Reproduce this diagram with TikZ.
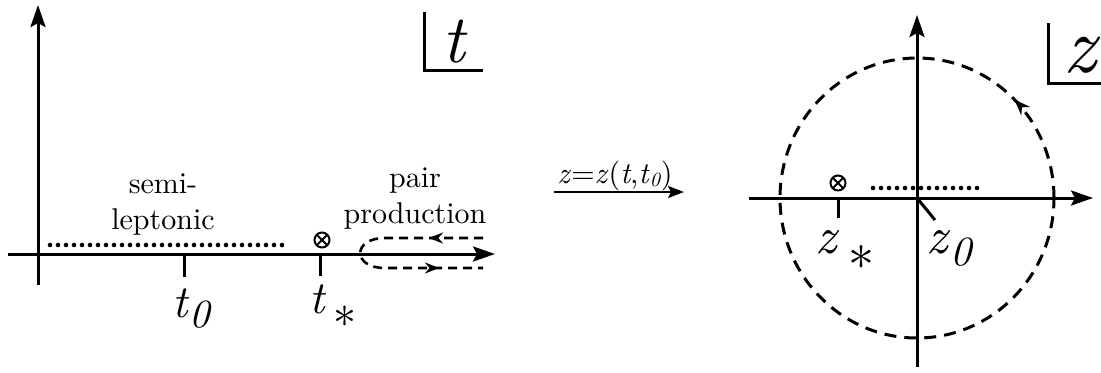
\documentclass[tikz,border=0pt]{standalone}
\usepackage{graphicx}
\usetikzlibrary{arrows.meta,decorations.markings}

\begin{document}
\begin{tikzpicture}[
  x=0.5pt, y=0.5pt,
  axis/.style={line width=1.5pt, -{Stealth[length=11pt,width=7.5pt,inset=2pt]}},
  tick/.style={line width=1.5pt},
  corner/.style={line width=1.5pt},
  cut/.style={line width=2.3pt, line cap=round, dash pattern=on 0pt off 4pt},
  contour/.style={line width=1.3pt, dash pattern=on 4.5pt off 3pt},
  circ/.style={line width=1.5pt, dash pattern=on 6pt off 4pt},
  pole/.style={circle, draw, line width=1pt, minimum size=7.5pt, inner sep=0pt,
    path picture={\draw[line width=1pt] (path picture bounding box.north west) -- (path picture bounding box.south east)
      (path picture bounding box.north east) -- (path picture bounding box.south west);}},
  lbl/.style={inner sep=0pt, anchor=base},
  txt/.style={inner sep=0pt}
]
  \useasboundingbox (0,0) rectangle (1101,372);

  % t plane
  \coordinate (tO) at (38,118);
  \coordinate (tDown) at (38,87);
  \coordinate (tUp) at (38,367);
  \coordinate (tLeft) at (8,118);
  \coordinate (tRight) at (495,118);
  \draw[line width=1.5pt] (tDown) -- (tO);
  \draw[axis] (tO) -- (tUp);
  \draw[axis] (tLeft) -- (tRight);
  \coordinate (cutA) at (50,127);
  \coordinate (cutB) at (287,127);
  \draw[cut] (cutA) -- (cutB);
  \coordinate (tz) at (184,118);
  \coordinate (tzTick) at (184,95);
  \draw[tick] (tz) -- (tzTick);
  \coordinate (ts) at (320,118);
  \coordinate (tsTick) at (320,96);
  \draw[tick] (ts) -- (tsTick);
  \node[pole] (tpole) at (322,132) {};
  \node[lbl] (tzlbl) at (192,55)
    {\scalebox{2.3}{\textit{t}\raisebox{-2.2pt}{\scalebox{0.87}{\textit{0}}}}};
  \node[lbl] (tslbl) at (333,59)
    {\scalebox{2.3}{\textit{t}\,\raisebox{-6pt}{*}}};
  \node[txt] (semi) at (163,168)
    {\scalebox{1.5}{\begin{tabular}{@{}c@{}}semi-\\leptonic\end{tabular}}};
  \node[txt] (pair) at (415,174)
    {\scalebox{1.5}{\begin{tabular}{@{}c@{}}pair\\production\end{tabular}}};
  \coordinate (upR) at (483,134);
  \coordinate (upL) at (385,134);
  \coordinate (loL) at (385,104);
  \coordinate (loR) at (483,104);
  \draw[contour, postaction={decorate}, decoration={markings,
      mark=at position 27pt with {\arrow{Stealth[length=7pt,width=5.5pt]}},
      mark=at position -22pt with {\arrow{Stealth[length=7pt,width=5.5pt]}}}]
    (upR) -- (upL) .. controls (352,134) and (352,104) .. (loL) -- (loR);
  \draw[corner] (424,360) |- (483,302);
  \node[lbl] (tname) at (455,310) {\scalebox{3.4}{\textit{t}}};

  % map
  \node[lbl] (map) at (615,189)
    {\scalebox{1.5}{\textit{z}=\textit{z}(\textit{t},\textit{t}\raisebox{-1.3pt}{\scalebox{0.67}{\textit{0}}})}};
  \coordinate (mapL) at (554,180);
  \coordinate (mapR) at (684,180);
  \draw[line width=1.2pt, -{Stealth[length=8pt,width=6pt,inset=1.5pt]}] (mapL) -- (mapR);

  % z plane
  \coordinate (zO) at (917,174);
  \coordinate (zDown) at (917,5);
  \coordinate (zUp) at (917,357);
  \coordinate (zLeft) at (749,174);
  \coordinate (zRight) at (1093,174);
  \draw[line width=1.5pt] (zDown) -- (zO);
  \draw[axis] (zO) -- (zUp);
  \draw[axis] (zLeft) -- (zRight);
  \draw[circ, postaction={decorate}, decoration={markings,
      mark=at position 0.125 with {\arrow{Stealth[length=8pt,width=6pt]}}}]
    (zO) ellipse [x radius=137, y radius=140];
  \coordinate (zcutA) at (873,184);
  \coordinate (zcutB) at (978,184);
  \draw[cut] (zcutA) -- (zcutB);
  \node[pole] (zpole) at (838,189) {};
  \coordinate (zs) at (838,174);
  \coordinate (zsTick) at (838,154);
  \draw[tick] (zs) -- (zsTick);
  \coordinate (zzTick) at (935,152);
  \draw[tick] (zO) -- (zzTick);
  \node[lbl] (zslbl) at (845,119)
    {\scalebox{2.6}{\textit{z}\,\raisebox{-6pt}{*}}};
  \node[lbl] (zzlbl) at (950,119)
    {\scalebox{2.6}{\textit{z}\raisebox{-2.4pt}{\scalebox{0.8}{\textit{0}}}}};
  \draw[corner] (1048,349) |- (1101,289);
  \node[lbl, anchor=base west] (zname) at (1063,300) {\scalebox{4}{\textit{z}}};
\end{tikzpicture}
\end{document}
